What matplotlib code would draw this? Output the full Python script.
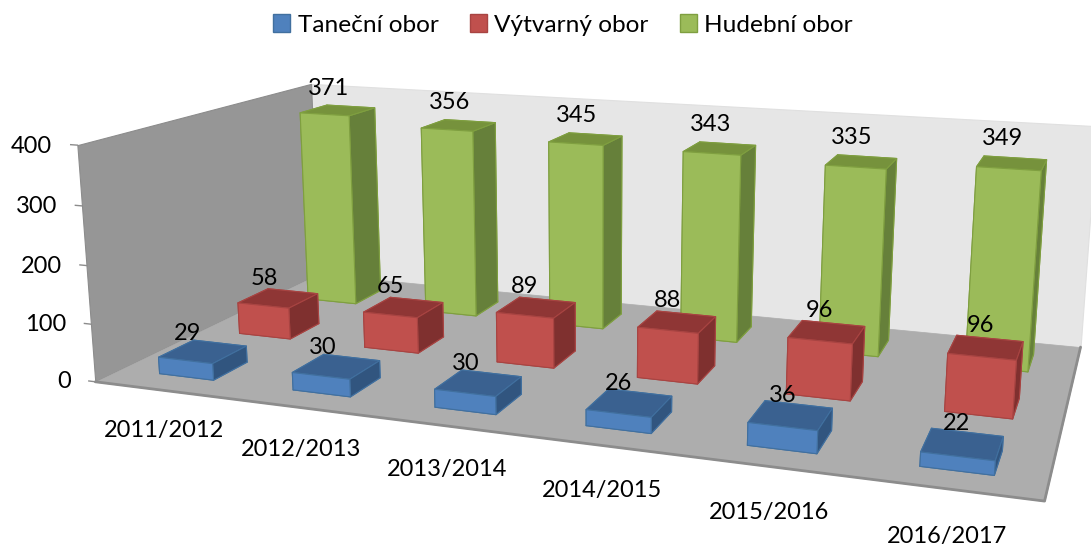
import numpy as np
import matplotlib
matplotlib.use('Agg')
import matplotlib.pyplot as plt
from matplotlib.patches import Patch
from mpl_toolkits.mplot3d.art3d import Poly3DCollection

# Data
roky = ['2011/2012', '2012/2013', '2013/2014', '2014/2015', '2015/2016', '2016/2017']
tanecni = [29, 30, 30, 26, 36, 22]
vytvarny = [58, 65, 89, 88, 96, 96]
hudebni = [371, 356, 345, 343, 335, 349]
obory = ['Taneční obor', 'Výtvarný obor', 'Hudební obor']
z_ticks = [0, 100, 200, 300, 400]

plt.rcParams['font.family'] = ['Lato', 'DejaVu Sans']
FS = 17

# front, top, side, edge
barvy = [
    ('#4F81BD', '#3A6190', '#31557F', '#41709F'),
    ('#C0504D', '#8F3635', '#7F302F', '#A84442'),
    ('#9BBB59', '#76923C', '#66803A', '#7F9F40'),
]
hodnoty = [tanecni, vytvarny, hudebni]
posun = [30, 36, 42]  # label height above the bar, per row

W, H = 1091, 544
L = 1091
fig = plt.figure(figsize=(W/100, H/100), dpi=100, facecolor='white')
# camera found by matching the corners of the plot
ax = fig.add_axes([45.53/W, -267.76/H, L/W, L/H], projection='3d')
ax.computed_zorder = False
ax.set_xlim(0, 6, view_margin=0)
ax.set_ylim(0, 3, view_margin=0)
ax.set_zlim(0, 400, view_margin=0)
ax.view_init(13.7616, -70.7220, -0.1215)
ax.set_proj_type('persp', focal_length=0.2777)
ax.set_box_aspect((3.8442, 1.8972, 1), zoom=0.9212)
ax.set_xticks([])
ax.set_yticks([])
ax.set_zticks([])
ax.set_axis_off()

nx, ny, zmax = len(roky), len(obory), z_ticks[-1]

# walls and floor
zed_l = [[(0, 0, 0), (0, ny, 0), (0, ny, zmax), (0, 0, zmax)]]
zed_b = [[(0, ny, 0), (nx, ny, 0), (nx, ny, zmax), (0, ny, zmax)]]
podl = [[(0, 0, 0), (nx, 0, 0), (nx, ny, 0), (0, ny, 0)]]
ax.add_collection3d(Poly3DCollection(zed_b, facecolor='#E6E6E6', edgecolor='#E0E0E0', linewidth=0.8, zorder=1))
ax.add_collection3d(Poly3DCollection(zed_l, facecolor='#969696', edgecolor='#8C8C8C', linewidth=0.8, zorder=1))
ax.add_collection3d(Poly3DCollection(podl, facecolor='#ADADAD', edgecolor='#ADADAD', linewidth=0.5, zorder=2))
ax.plot([0, nx, nx], [0, 0, ny], [0, 0, 0], color='#8C8C8C', lw=2, zorder=3, solid_capstyle='round')

# bars, back row first
w, d = 0.4112, 0.4182
for j in range(ny - 1, -1, -1):
    f, t, s, e = barvy[j]
    for i in range(nx):
        c = [f, t, f, f, s, s]
        ax.bar3d(i + .5 - w/2, j + .5 - d/2, 0, w, d, hodnoty[j][i], color=c, shade=False,
                 edgecolor=e, linewidth=0.8, zorder=10 + (ny - j)*10 + i)

# value labels
for j in range(ny):
    for i in range(nx):
        v = hodnoty[j][i]
        dx = -.07 if j == 2 else -.11 + .014*i
        ax.text(i + .5 + dx, j + .5, v + posun[j], str(v), fontsize=FS, ha='center', va='center', color='black', zorder=100)

# z axis
for z in z_ticks:
    ax.plot([-.05, 0], [0, 0], [z, z], color='#8C8C8C', lw=1, zorder=5)
    ax.text(-.19, 0, z - 5, str(z), fontsize=FS, ha='right', va='center', color='black', zorder=100)

# categories
for i, rok in enumerate(roky):
    ax.text(i + .5, 0, -71, rok, fontsize=FS, ha='center', va='center', color='black', zorder=100)

handles = [Patch(facecolor=barvy[j][0], edgecolor=barvy[j][3], label=obory[j]) for j in range(ny)]
fig.legend(handles=handles, loc='center', bbox_to_anchor=(563/W, 1 - 25/H), ncol=3, frameon=False, fontsize=17.6,
           handlelength=.7, handleheight=.7, handletextpad=.3, columnspacing=1.28, borderpad=0)

fig.savefig('out.png', dpi=100)
